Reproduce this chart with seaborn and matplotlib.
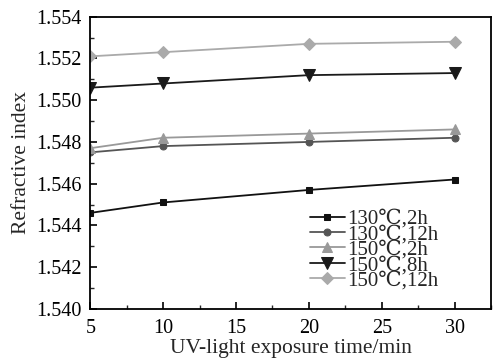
import numpy as np
import pandas as pd
import matplotlib
matplotlib.use('Agg')
import matplotlib.pyplot as plt
from matplotlib.ticker import MultipleLocator
import seaborn as sns

time_min = [5, 10, 20, 30]
series_labels = ['130℃,2h', '130℃,12h', '150℃,2h', '150℃,8h', '150℃,12h']
ri_130_2h = [1.5446, 1.5451, 1.5457, 1.5462]
ri_130_12h = [1.5475, 1.5478, 1.5480, 1.5482]
ri_150_2h = [1.5477, 1.5482, 1.5484, 1.5486]
ri_150_8h = [1.5506, 1.5508, 1.5512, 1.5513]
ri_150_12h = [1.5521, 1.5523, 1.5527, 1.5528]

all_series = [ri_130_2h, ri_130_12h, ri_150_2h, ri_150_8h, ri_150_12h]
rows = []
for lab, vals in zip(series_labels, all_series):
    for t, v in zip(time_min, vals):
        rows.append({'time': t, 'ri': v, 'cond': lab})
df = pd.DataFrame(rows)

sns.set_theme(style='ticks')
plt.rcParams['font.family'] = ['Liberation Serif', 'DejaVu Serif']
plt.rcParams['xtick.direction'] = 'in'
plt.rcParams['ytick.direction'] = 'in'

colors = ['#111111', '#555555', '#999999', '#1a1a1a', '#aaaaaa']
markers = ['s', 'o', '^', 'v', 'D']
sizes = [5, 5, 7, 8, 6]

fig, ax = plt.subplots(figsize=(4.96, 3.63), dpi=100)
for lab, c, m, ms in zip(series_labels, colors, markers, sizes):
    sub = df[df['cond'] == lab]
    sns.lineplot(data=sub, x='time', y='ri', ax=ax, color=c, marker=m,
                 markersize=ms, markeredgecolor=c, linewidth=1.3, label=lab)

ax.set_xlim(5, 32.5)
ax.set_ylim(1.540, 1.554)
ax.xaxis.set_major_locator(MultipleLocator(5))
ax.xaxis.set_minor_locator(MultipleLocator(2.5))
ax.yaxis.set_major_locator(MultipleLocator(0.002))
ax.yaxis.set_minor_locator(MultipleLocator(0.001))
ax.yaxis.set_major_formatter(matplotlib.ticker.FormatStrFormatter('%.3f'))
ax.tick_params(which='major', length=5, width=1.2, labelsize=14.5, colors='black')
ax.tick_params(axis='x', which='major', pad=7)
ax.tick_params(axis='y', which='major', pad=6)
ax.tick_params(which='minor', length=3, width=1.0)
for s in ax.spines.values():
    s.set_linewidth(1.3)
    s.set_color('black')

ax.set_xlabel('UV-light exposure time/min', fontsize=15.5, labelpad=1)
ax.set_ylabel('Refractive index', fontsize=15.5, labelpad=4)

# legend entries are packed tightly in the original
leg = ax.legend(loc='lower right', bbox_to_anchor=(0.9, 0.02), frameon=False,
                fontsize=15, handlelength=1.7, handletextpad=0.1,
                labelspacing=-0.2, borderaxespad=0.2)

fig.subplots_adjust(left=0.182, right=0.99, top=0.954, bottom=0.149)
plt.savefig('out.png', dpi=100)
